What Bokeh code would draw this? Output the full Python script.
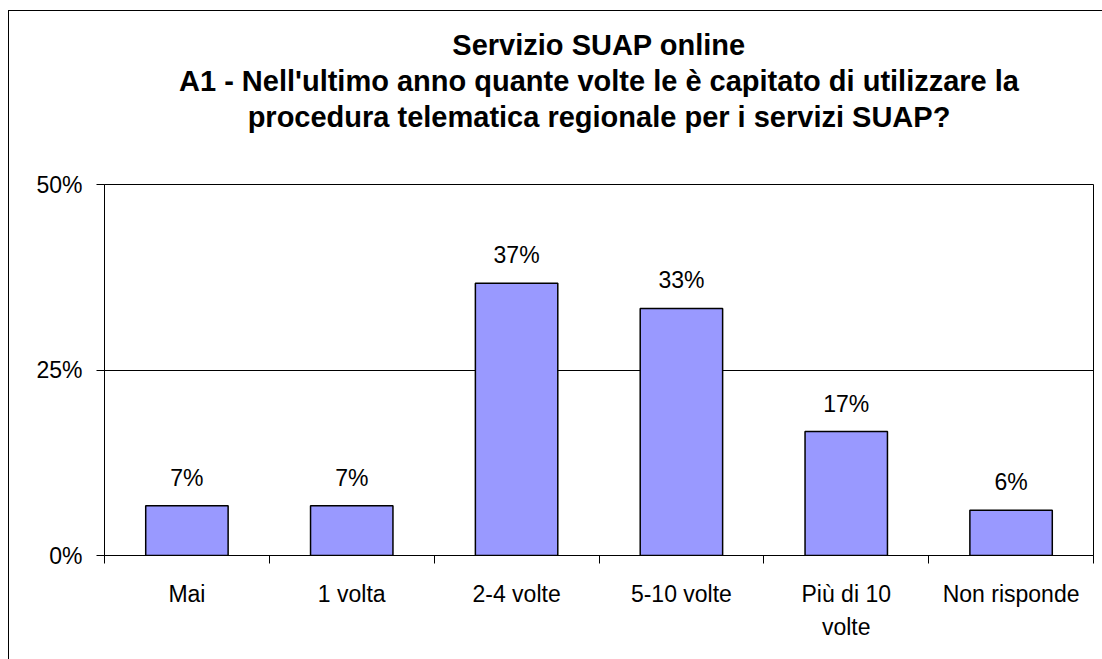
from bokeh.plotting import figure
from bokeh.models import FixedTicker, Title, ColumnDataSource
from bokeh.core.properties import value
from bokeh.embed import file_html
from bokeh.resources import INLINE

categories = ["Mai", "1 volta", "2-4 volte", "5-10 volte", "Più di 10\nvolte", "Non risponde"]
values = [6.7, 6.7, 36.7, 33.3, 16.7, 6.1]
y_ticks = [0, 25, 50]
title_lines = [
    "Servizio SUAP online",
    "A1 - Nell'ultimo anno quante volte le è capitato di utilizzare la",
    "procedura telematica regionale per i servizi SUAP?",
]

FONT = "Liberation Sans"

xpos = [i + 0.5 for i in range(len(categories))]
labels = [f"{round(v)}%" for v in values]
src = ColumnDataSource(dict(x=xpos, top=values, label=labels))

p = figure(width=1094, height=649, output_backend="svg", toolbar_location=None,
           x_range=(0, len(categories)), y_range=(0, 50),
           min_border_left=95, min_border_right=10, min_border_bottom=105, min_border_top=0)
p.styles = {"margin-left": "8px", "margin-top": "10px",
            "border-left": "1px solid black", "border-top": "1px solid black"}

# spacer between the title block and the plot frame
p.add_layout(Title(text=" ", text_font_size="44px", standoff=0), "above")
# titles (added bottom line first)
standoffs = [2, 2, 2]
for t, so in zip(reversed(title_lines), reversed(standoffs)):
    p.add_layout(Title(text=t, align="center", text_font_size="29px",
                       text_font_style="bold", text_font=FONT, text_color="black",
                       standoff=so), "above")
# spacer above the title block
p.add_layout(Title(text=" ", text_font_size="11px", standoff=0), "above")

p.vbar(x="x", top="top", width=0.5, source=src, fill_color="#9999FF",
       line_color="black", line_width=1.5)
p.text(x="x", y="top", text="label", source=src, y_offset=-28, text_align="center",
       text_baseline="middle", text_font=value(FONT), text_font_size="23px", text_color="black")

p.outline_line_color = "black"
p.outline_line_width = 1
p.xgrid.visible = False
p.ygrid.ticker = FixedTicker(ticks=y_ticks)
p.ygrid.grid_line_color = "black"
p.ygrid.grid_line_width = 1

p.yaxis.ticker = FixedTicker(ticks=y_ticks)
p.yaxis.major_label_overrides = {t: f"{t}%" for t in y_ticks}
p.yaxis.major_tick_out = 8
p.yaxis.major_tick_in = 0
p.yaxis.minor_tick_line_color = None
p.yaxis.major_label_standoff = 14
p.yaxis.major_label_text_font_size = "23px"
p.yaxis.major_label_text_font = FONT
p.yaxis.major_label_text_color = "black"
p.yaxis.axis_line_color = "black"

p.xaxis.ticker = FixedTicker(ticks=xpos, minor_ticks=list(range(len(categories) + 1)))
p.xaxis.major_label_overrides = {x: c for x, c in zip(xpos, categories)}
p.xaxis.major_tick_line_color = None
p.xaxis.major_tick_out = 0
p.xaxis.major_tick_in = 0
p.xaxis.minor_tick_out = 8
p.xaxis.minor_tick_in = 0
p.xaxis.minor_tick_line_color = "black"
p.xaxis.major_label_standoff = 17
p.xaxis.major_label_text_font_size = "23px"
p.xaxis.major_label_text_font = FONT
p.xaxis.major_label_text_color = "black"
p.xaxis.major_label_text_line_height = 1.3
p.xaxis.axis_line_color = "black"

open("out.html", "w").write(file_html(p, INLINE))
